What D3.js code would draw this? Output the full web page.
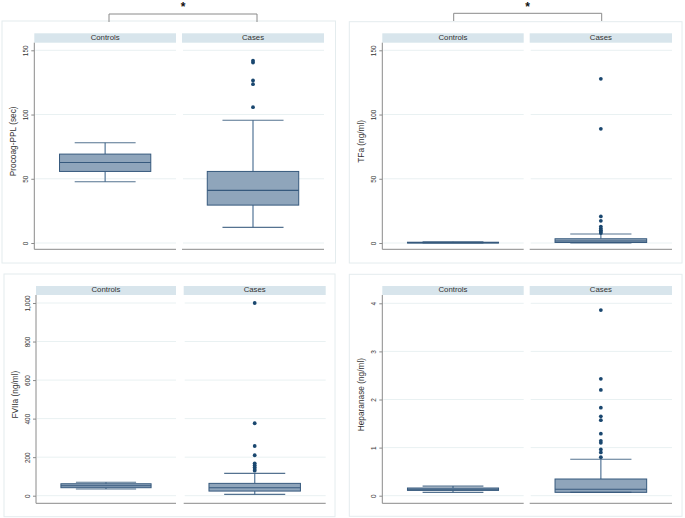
<!DOCTYPE html>
<html><head><meta charset="utf-8">
<script src="https://cdn.jsdelivr.net/npm/d3@7"></script>
<style>body{margin:0;background:#fff}svg{display:block;font-family:"Liberation Sans",Arial,sans-serif}</style>
</head><body>
<svg id="c" width="685" height="518"></svg>
<script>
const groups = ["Controls", "Cases"];
const yTitles = ["Procoag-PPL (sec)", "TFa (ng/ml)", "FVIIa (ng/ml)", "Heparanase (ng/ml)"];
const yTicks = [[0, 50, 100, 150], [0, 50, 100, 150], [0, 200, 400, 600, 800, 1000], [0, 1, 2, 3, 4]];
const yMax = [150, 150, 1000, 4];
// [lower whisker, q1, median, q3, upper whisker] for Controls, Cases
const procoagStats = [[47.7, 55.7, 62.7, 69.2, 78.0], [12.2, 29.5, 41.0, 55.7, 95.6]];
const procoagOutliers = [[], [105.7, 123.6, 126.5, 140.5, 142.0]];
const tfaStats = [[0.0, 0.1, 0.3, 0.6, 0.9], [0.0, 0.4, 1.5, 3.3, 7.0]];
const tfaOutliers = [[], [7.8, 8.8, 10.0, 11.2, 12.8, 17.3, 20.7, 88.9, 127.8]];
const fviiaStats = [[35, 41.5, 52, 62, 69.5], [7, 24, 41.5, 64, 116]];
const fviiaOutliers = [[], [130, 138, 148, 158, 168, 210, 258, 376, 1000]];
const hepStats = [[0.07, 0.11, 0.135, 0.16, 0.2], [0.07, 0.07, 0.133, 0.347, 0.757]];
const hepOutliers = [[], [0.8, 0.9, 0.96, 1.1, 1.14, 1.29, 1.57, 1.65, 1.83, 2.2, 2.43, 3.86]];
const significance = ["*", "*", "", ""];

const statsAll = [procoagStats, tfaStats, fviiaStats, hepStats];
const outAll = [procoagOutliers, tfaOutliers, fviiaOutliers, hepOutliers];

// layout
const layout = [
  {border:[2,21,333.5,242], axisX:34.3, subs:[[34.3,176],[182,324]], strip:[33.3,42.7], y0:243, yTop:50.3, axisY:249.3, brk:[109,257,14,22]},
  {border:[349.3,21.7,332.7,241.3], axisX:382.3, subs:[[382.3,523.7],[529.7,672]], strip:[33.3,42.7], y0:243, yTop:50.3, axisY:249.3, brk:[453.7,601.7,13.3,21]},
  {border:[4,274,331,242.7], axisX:36, subs:[[36,176],[183.7,325.7]], strip:[286,295], y0:495.7, yTop:303, axisY:503.3},
  {border:[349.3,274.3,332.7,242], axisX:382.3, subs:[[382.3,523.7],[529.7,672]], strip:[286,295], y0:495.7, yTop:303.3, axisY:503.3}
];

const C = {fill:"#8fa5bb", edge:"#36597d", whisk:"#6c89a6", dot:"#1a476f", strip:"#d8e5ec", grid:"#e9f1f2", axis:"#8a8a8a", border:"#e4ecee", text:"#333"};
const svg = d3.select("#c");

layout.forEach((L, i) => {
  const g = svg.append("g");
  const [bx, by, bw, bh] = L.border;
  g.append("rect").attr("x", bx).attr("y", by).attr("width", bw).attr("height", bh)
    .attr("fill", "none").attr("stroke", C.border).attr("stroke-width", 1);

  const y = d3.scaleLinear().domain([0, yMax[i]]).range([L.y0, L.yTop]);

  groups.forEach((grp, j) => {
    const [x0, x1] = L.subs[j];
    const x = d3.scaleLinear().domain([0, 1]).range([x0, x1]);
    g.append("rect").attr("x", x0).attr("y", L.strip[0]).attr("width", x1 - x0).attr("height", L.strip[1] - L.strip[0]).attr("fill", C.strip);
    g.append("text").attr("x", x(0.5)).attr("y", L.strip[1] - 2.6).attr("text-anchor", "middle")
      .attr("font-size", 7.8).attr("fill", C.text).text(grp);
    g.selectAll(null).data(yTicks[i]).enter().append("line")
      .attr("x1", x0 + 1).attr("x2", x1).attr("y1", d => y(d)).attr("y2", d => y(d))
      .attr("stroke", C.grid).attr("stroke-width", 1);
    g.append("line").attr("x1", x0).attr("x2", x1).attr("y1", L.axisY).attr("y2", L.axisY)
      .attr("stroke", C.axis).attr("stroke-width", 1);

    const s = statsAll[i][j];
    const cx = x(0.5);
    const bhw = (x1 - x0) * 0.322, chw = (x1 - x0) * 0.215;
    g.append("line").attr("x1", cx).attr("x2", cx).attr("y1", y(s[3])).attr("y2", y(s[4])).attr("stroke", C.whisk).attr("stroke-width", 1.4);
    g.append("line").attr("x1", cx).attr("x2", cx).attr("y1", y(s[1])).attr("y2", y(s[0])).attr("stroke", C.whisk).attr("stroke-width", 1.4);
    g.append("rect").attr("x", cx - bhw).attr("y", y(s[3])).attr("width", 2 * bhw).attr("height", Math.max(0.8, y(s[1]) - y(s[3])))
      .attr("fill", C.fill).attr("stroke", C.edge).attr("stroke-width", 1);
    g.append("line").attr("x1", cx - bhw).attr("x2", cx + bhw).attr("y1", y(s[2])).attr("y2", y(s[2])).attr("stroke", C.edge).attr("stroke-width", 1.1);
    [s[0], s[4]].forEach(v => {
      g.append("line").attr("x1", cx - chw).attr("x2", cx + chw).attr("y1", y(v)).attr("y2", y(v)).attr("stroke", C.edge).attr("stroke-width", 1.1).attr("stroke-opacity", 0.85);
    });
    g.selectAll(null).data(outAll[i][j]).enter().append("circle")
      .attr("cx", cx).attr("cy", d => y(d)).attr("r", 1.9).attr("fill", C.dot);
  });

  const ax = d3.axisLeft(y).tickValues(yTicks[i]).tickSize(3).tickFormat(d3.format(","));
  const ag = g.append("g").attr("transform", `translate(${L.axisX},0)`).call(ax);
  ag.select(".domain").attr("d", `M0,${L.strip[1]}V${L.axisY}`).attr("stroke", C.axis);
  ag.selectAll(".tick line").attr("stroke", C.axis);
  ag.selectAll(".tick text").attr("transform", "rotate(-90)").attr("x", 0).attr("y", -6).attr("dy", 0)
    .attr("text-anchor", "middle").attr("font-size", 6.4).attr("fill", C.text).attr("font-family", "Liberation Sans, Arial, sans-serif");

  g.append("text").attr("transform", `translate(${L.axisX - 18},${(L.strip[0] + L.axisY) / 2}) rotate(-90)`)
    .attr("text-anchor", "middle").attr("font-size", 8.3).attr("fill", C.text).text(yTitles[i]);

  if (L.brk && significance[i]) {
    const [xa, xb, yt, yb] = L.brk;
    g.append("path").attr("d", `M${xa},${yb}V${yt}H${xb}V${yb}`).attr("fill", "none").attr("stroke", "#8a8a8a").attr("stroke-width", 1);
    g.append("text").attr("x", (xa + xb) / 2).attr("y", 11).attr("text-anchor", "middle").attr("font-size", 12).attr("font-weight", "bold").attr("fill", "#111").text(significance[i]);
  }
});
</script>
</body></html>
